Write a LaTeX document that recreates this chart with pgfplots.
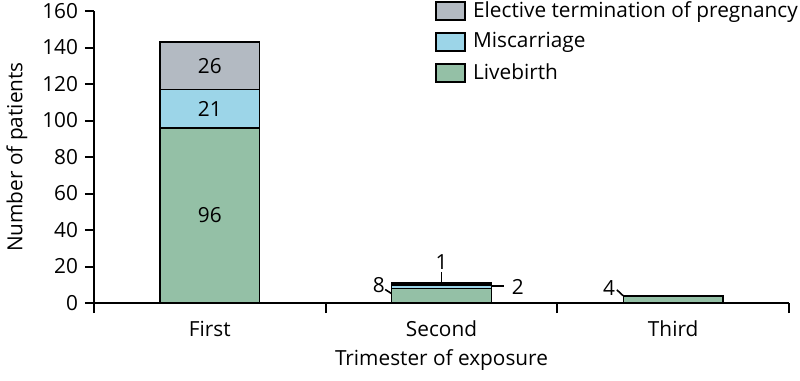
\documentclass[border=0pt]{standalone}
\usepackage{pgfplots}
\pgfplotsset{compat=1.18}
\usepackage{fontspec}
\setmainfont{Open Sans}
\definecolor{cgray}{RGB}{179,186,194}
\definecolor{cblue}{RGB}{156,213,232}
\definecolor{cgreen}{RGB}{148,192,166}
\newcommand{\lab}{\fontsize{10.4pt}{12.5pt}\selectfont}
\begin{document}
\begin{tikzpicture}
\useasboundingbox (-47pt,-39pt) rectangle (353pt,151.5pt);
\begin{axis}[
  at={(0,0)}, anchor=south west,
  scale only axis, width=347.5pt, height=146pt,
  ybar stacked, bar width=0.43,
  xmin=-0.5, xmax=2.5, ymin=0, ymax=160,
  axis lines*=left,
  axis line style={line width=1pt},
  every tick/.style={black, line width=1pt},
  tick align=outside,
  xtick={0,1,2}, xticklabels={First,Second,Third},
  major x tick style={draw=none},
  minor xtick={-0.5,0.5,1.5,2.5},
  minor tick length=5pt,
  major tick length=4.5pt,
  xticklabel style={yshift=-1pt},
  ytick={0,20,...,160},
  /pgf/number format/assume math mode=true,
  tick label style={font=\lab},
  label style={font=\lab},
  xlabel={Trimester of exposure},
  ylabel={Number of patients},
  xlabel style={at={(axis description cs:0.5,-0.195)}, anchor=center},
  ylabel style={at={(axis description cs:-0.111,0.5)}, anchor=center},
  reverse legend,
  legend cell align=left,
  legend style={draw=none, fill=none, font=\lab, at={(axis description cs:1.019,1.048)}, anchor=north east, inner sep=0pt, row sep=2.2pt},
  legend image code/.code={\draw[#1, line width=1pt] (0pt,-4.5pt) rectangle (14.5pt,4.5pt); \path (16pt,0pt);},
  after end axis/.code={
    \node[font=\lab] at (axis cs:0,130) {26};
    \node[font=\lab] at (axis cs:0,106.5) {21};
    \node[font=\lab] at (axis cs:0,48) {96};
    \draw[line width=0.8pt] (axis cs:0.757,7.4) -- (axis cs:0.784,5.2);
    \node[font=\lab] at (axis cs:0.73,9.6) {8};
    \draw[line width=0.8pt] (axis cs:1,17) -- (axis cs:1,11);
    \node[font=\lab] at (axis cs:1,22.5) {1};
    \draw[line width=0.8pt] (axis cs:1.216,9.3) -- (axis cs:1.27,9.3);
    \node[font=\lab] at (axis cs:1.33,8.9) {2};
    \draw[line width=0.8pt] (axis cs:1.757,7.2) -- (axis cs:1.784,4);
    \node[font=\lab] at (axis cs:1.723,8.2) {4};
  },
]
\addplot[fill=cgreen, draw=black, line width=0.8pt] coordinates {(0,96) (1,8) (2,4)};
\addlegendentry{Livebirth}
\addplot[fill=cblue, draw=black, line width=0.8pt] coordinates {(0,21) (1,2) (2,0)};
\addlegendentry{Miscarriage}
\addplot[fill=cgray, draw=black, line width=0.8pt] coordinates {(0,26) (1,1) (2,0)};
\addlegendentry{Elective termination of pregnancy}
\end{axis}
\end{tikzpicture}
\end{document}
